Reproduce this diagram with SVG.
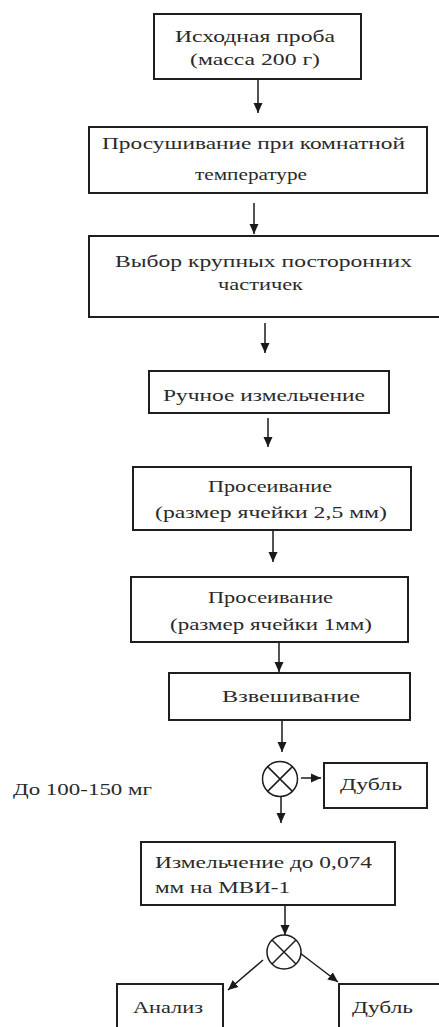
<svg xmlns="http://www.w3.org/2000/svg" width="439" height="1027" viewBox="0 0 439 1027">
<defs>
<marker id="ah" markerUnits="userSpaceOnUse" markerWidth="10" markerHeight="10" refX="10" refY="5" orient="auto">
<path d="M0,0.5 L10,5 L0,9.5 z" fill="#1a1a1a"/>
</marker>
<style>
.box{fill:#fff;stroke:#1e1e1e;stroke-width:2}
.t{font-family:"Liberation Serif","Times New Roman",serif;font-size:17px;fill:#2a2a2a}
.c{fill:none;stroke:#1a1a1a;stroke-width:1.5;marker-end:url(#ah)}
.x{fill:#fff;stroke:#1e1e1e;stroke-width:1.5}
</style>
</defs>
<rect width="439" height="1027" fill="#fff"/>
<g id="connectors">
<line class="c" x1="258" y1="80" x2="258" y2="113"/>
<line class="c" x1="254" y1="203" x2="254" y2="234"/>
<line class="c" x1="265" y1="323" x2="265" y2="353"/>
<line class="c" x1="268" y1="418" x2="268" y2="447"/>
<line class="c" x1="273" y1="531" x2="273" y2="562"/>
<line class="c" x1="279" y1="643" x2="279" y2="672"/>
<line class="c" x1="282" y1="721" x2="282" y2="752"/>
<line class="c" x1="301" y1="778" x2="321" y2="778"/>
<line class="c" x1="281" y1="797" x2="281" y2="823"/>
<line class="c" x1="285" y1="906" x2="285" y2="935"/>
<line class="c" x1="263" y1="960" x2="228" y2="990"/>
<line class="c" x1="300" y1="953" x2="338" y2="982"/>
</g>
<g id="n1">
<rect class="box" x="154" y="14" width="207" height="65"/>
<text class="t" x="175" y="42" textLength="160" lengthAdjust="spacingAndGlyphs">Исходная проба</text>
<text class="t" x="190" y="65" textLength="130" lengthAdjust="spacingAndGlyphs">(масса 200 г)</text>
</g>
<g id="n2">
<rect class="box" x="89" y="127" width="338" height="66"/>
<text class="t" x="102" y="149" textLength="303" lengthAdjust="spacingAndGlyphs">Просушивание при комнатной</text>
<text class="t" x="195" y="180" textLength="112" lengthAdjust="spacingAndGlyphs">температуре</text>
</g>
<g id="n3">
<rect class="box" x="89" y="236" width="352" height="81"/>
<text class="t" x="115" y="267" textLength="297" lengthAdjust="spacingAndGlyphs">Выбор крупных посторонних</text>
<text class="t" x="218" y="290" textLength="85" lengthAdjust="spacingAndGlyphs">частичек</text>
</g>
<g id="n4">
<rect class="box" x="149" y="371" width="240" height="42"/>
<text class="t" x="163" y="401" textLength="202" lengthAdjust="spacingAndGlyphs">Ручное измельчение</text>
</g>
<g id="n5">
<rect class="box" x="133" y="467" width="278" height="63"/>
<text class="t" x="208" y="492" textLength="124" lengthAdjust="spacingAndGlyphs">Просеивание</text>
<text class="t" x="155" y="518" textLength="232" lengthAdjust="spacingAndGlyphs">(размер ячейки 2,5 мм)</text>
</g>
<g id="n6">
<rect class="box" x="131" y="577" width="277" height="65"/>
<text class="t" x="208" y="603" textLength="125" lengthAdjust="spacingAndGlyphs">Просеивание</text>
<text class="t" x="170" y="630" textLength="202" lengthAdjust="spacingAndGlyphs">(размер ячейки 1мм)</text>
</g>
<g id="n7">
<rect class="box" x="169" y="673" width="241" height="47"/>
<text class="t" x="222" y="702" textLength="138" lengthAdjust="spacingAndGlyphs">Взвешивание</text>
</g>
<g id="split1">
<circle class="x" cx="280" cy="779" r="17.5"/>
<path d="M267.6,766.6 L292.4,791.4 M292.4,766.6 L267.6,791.4" stroke="#1e1e1e" stroke-width="1.5"/>
</g>
<g id="label">
<text class="t" x="13" y="795" textLength="139" lengthAdjust="spacingAndGlyphs">До 100-150 мг</text>
</g>
<g id="n8">
<rect class="box" x="324" y="763" width="103" height="45"/>
<text class="t" x="340" y="790" textLength="62" lengthAdjust="spacingAndGlyphs">Дубль</text>
</g>
<g id="n9">
<rect class="box" x="141" y="842" width="254" height="63"/>
<text class="t" x="155" y="868" textLength="217" lengthAdjust="spacingAndGlyphs">Измельчение до 0,074</text>
<text class="t" x="155" y="893" textLength="135" lengthAdjust="spacingAndGlyphs">мм на МВИ-1</text>
</g>
<g id="split2">
<circle class="x" cx="284" cy="952" r="17"/>
<path d="M272,940 L296,964 M296,940 L272,964" stroke="#1e1e1e" stroke-width="1.5"/>
</g>
<g id="n10">
<rect class="box" x="117" y="984" width="106" height="60"/>
<text class="t" x="133" y="1013" textLength="70" lengthAdjust="spacingAndGlyphs">Анализ</text>
</g>
<g id="n11">
<rect class="box" x="339" y="984" width="110" height="60"/>
<text class="t" x="352" y="1013" textLength="61" lengthAdjust="spacingAndGlyphs">Дубль</text>
</g>
</svg>
